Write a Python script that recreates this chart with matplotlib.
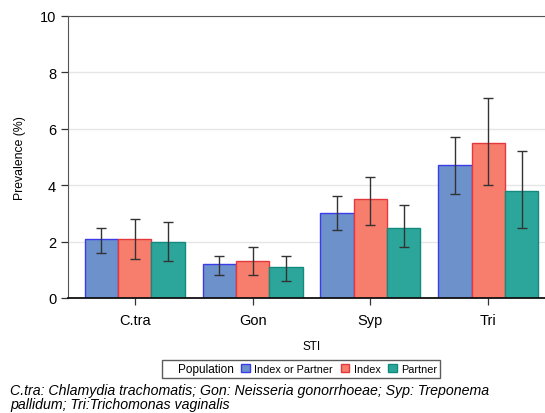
import numpy as np
import matplotlib.pyplot as plt
from matplotlib.patches import Patch

plt.rcParams['font.family'] = ['Liberation Sans', 'DejaVu Sans']

### Data
stis = ['C.tra', 'Gon', 'Syp', 'Tri']
groups = ['Index or Partner', 'Index', 'Partner']
prev_both = [2.1, 1.2, 3.0, 4.7]
prev_index = [2.1, 1.3, 3.5, 5.5]
prev_partner = [2.0, 1.1, 2.5, 3.8]
lo_both = [1.6, 0.8, 2.4, 3.7]
hi_both = [2.5, 1.5, 3.6, 5.7]
lo_index = [1.4, 0.8, 2.6, 4.0]
hi_index = [2.8, 1.8, 4.3, 7.1]
lo_partner = [1.3, 0.6, 1.8, 2.5]
hi_partner = [2.7, 1.5, 3.3, 5.2]

faces = ['#6c91cb', '#f77d6c', '#2ca69b']
edges = ['#3b3bea', '#e5383e', '#138a7e']

fig = plt.figure(figsize=(5.45, 4.14), dpi=100)
ax = fig.add_axes([68/545, 115/414, 487/545, 282/414])

x = np.arange(len(stis))
w = 0.283
series = [(prev_both, lo_both, hi_both),
          (prev_index, lo_index, hi_index),
          (prev_partner, lo_partner, hi_partner)]
for i, (vals, lo, hi) in enumerate(series):
    pos = x + (i - 1) * w
    vals = np.array(vals)
    ax.bar(pos, vals, width=w, color=faces[i], edgecolor=edges[i], linewidth=1.0, zorder=2)
    yerr = [vals - np.array(lo), np.array(hi) - vals]
    ax.errorbar(pos, vals, yerr=yerr, fmt='none', ecolor='#333333', elinewidth=1.0,
                capsize=3.5, capthick=1.0, zorder=3)

ax.set_xlim(-0.566, 3.566)
ax.set_ylim(0, 10)
ax.set_yticks([0, 2, 4, 6, 8, 10])
ax.set_xticks(x)
ax.set_xticklabels(stis)
ax.grid(axis='y', color='#e6e6e6', linewidth=1.0, zorder=0)
ax.set_axisbelow(True)

ax.spines['right'].set_visible(False)
ax.spines['top'].set_color('#555555')
ax.spines['left'].set_color('#555555')
ax.spines['bottom'].set_color('#111111')
ax.spines['bottom'].set_linewidth(1.3)
ax.tick_params(axis='both', labelsize=10.5, length=5, color='#333333', width=0.9)
ax.tick_params(axis='x', pad=6)

ax.set_ylabel('Prevalence (%)', fontsize=8.8)
ax.yaxis.set_label_coords(-42/487, 0.5)
ax.set_xlabel('STI', fontsize=8.5, labelpad=9)

handles = [Patch(visible=False)] + [Patch(facecolor=faces[i], edgecolor=edges[i]) for i in range(3)]
labels = ['Population'] + groups
leg = fig.legend(handles, labels, loc='center', bbox_to_anchor=(301/545, 1 - 370/414),
                 ncol=4, fontsize=7.8, frameon=True, fancybox=False, edgecolor='#333333',
                 handlelength=0.8, handleheight=0.8, handletextpad=0.4, columnspacing=0.7,
                 borderpad=0.25, borderaxespad=0)
leg.get_frame().set_linewidth(1.0)
leg.get_texts()[0].set_fontsize(8.5)

fig.text(10/545, 1 - 391/414, 'C.tra: Chlamydia trachomatis; Gon: Neisseria gonorrhoeae; Syp: Treponema',
         fontsize=10.2, style='italic', va='center')
fig.text(10/545, 1 - 405/414, 'pallidum; Tri:Trichomonas vaginalis',
         fontsize=10.2, style='italic', va='center')

fig.savefig('out.png', dpi=100)
